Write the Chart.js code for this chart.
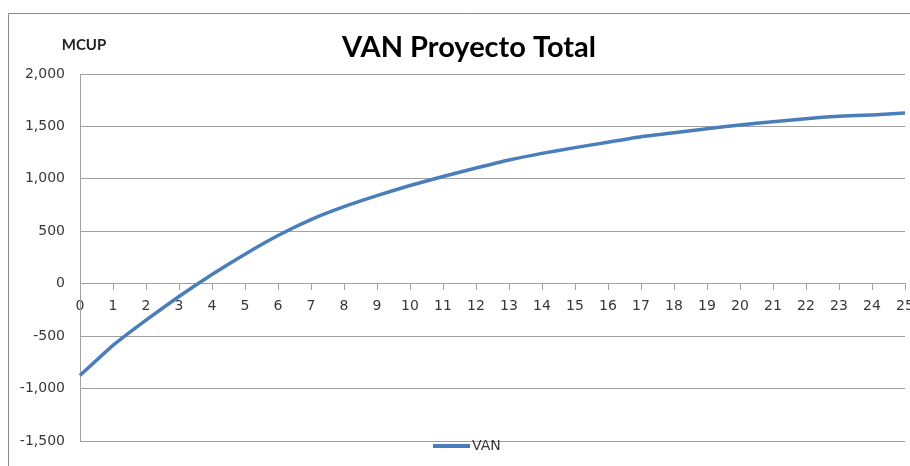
<!DOCTYPE html>
<html>
<head>
<meta charset="utf-8">
<script src="https://cdn.jsdelivr.net/npm/chart.js@4/dist/chart.umd.min.js"></script>
<style>
  html, body { margin: 0; padding: 0; background: #fff; overflow: hidden; }
  #wrap { position: relative; width: 910px; height: 466px; overflow: hidden; }
</style>
</head>
<body>
<div id="wrap"><canvas id="c" width="925" height="466"></canvas></div>
<script>
const years = ['0','1','2','3','4','5','6','7','8','9','10','11','12','13','14','15','16','17','18','19','20','21','22','23','24','25'];
const vanValues = [-875, -588, -347, -122, 88, 282, 460, 612, 735, 840, 937, 1022, 1103, 1180, 1243, 1298, 1350, 1402, 1440, 1478, 1514, 1545, 1574, 1598, 1610, 1628];
const yTicks = [-1500, -1000, -500, 0, 500, 1000, 1500, 2000];
const titleText = 'VAN Proyecto Total';
const unitText = 'MCUP';
const seriesName = 'VAN';

const lineColor = '#4a7ebb';
const gridColor = '#a0a0a0';
const textColor = '#383838';

const decorPlugin = {
  id: 'decor',
  beforeDraw(chart) {
    const ctx = chart.ctx;
    ctx.save();
    ctx.fillStyle = '#fff';
    ctx.fillRect(0, 0, chart.width, chart.height);
    ctx.strokeStyle = '#8a8a8a';
    ctx.lineWidth = 1;
    ctx.beginPath();
    ctx.moveTo(8.5, chart.height + 5);
    ctx.lineTo(8.5, 13.5);
    ctx.lineTo(chart.width + 5, 13.5);
    ctx.stroke();
    ctx.restore();
  },
  afterDraw(chart) {
    const ctx = chart.ctx;
    ctx.save();
    // title
    ctx.fillStyle = '#000';
    ctx.font = 'bold 29px Lato';
    ctx.textAlign = 'center';
    ctx.textBaseline = 'alphabetic';
    ctx.fillText(titleText, 469, 57);
    // unit label
    ctx.font = 'bold 15px Lato';
    ctx.fillStyle = '#222';
    ctx.fillText(unitText, 84, 50);
    // legend
    const ds = chart.data.datasets[0];
    ctx.strokeStyle = ds.borderColor;
    ctx.lineWidth = 4;
    ctx.beginPath();
    ctx.moveTo(433, 446);
    ctx.lineTo(470, 446);
    ctx.stroke();
    ctx.fillStyle = textColor;
    ctx.font = '14px "DejaVu Sans"';
    ctx.textAlign = 'left';
    ctx.textBaseline = 'middle';
    ctx.fillText(ds.label, 472, 446);
    ctx.restore();
  }
};

new Chart(document.getElementById('c'), {
  type: 'line',
  data: {
    labels: years,
    datasets: [{
      label: seriesName,
      data: vanValues,
      borderColor: lineColor,
      backgroundColor: lineColor,
      borderWidth: 3.5,
      pointRadius: 0,
      tension: 0.15,
      fill: false
    }]
  },
  options: {
    responsive: false,
    animation: false,
    devicePixelRatio: 1,
    layout: { padding: { left: 0, top: 74, right: 20, bottom: 25 } },
    plugins: {
      legend: { display: false },
      title: { display: false },
      tooltip: { enabled: false }
    },
    scales: {
      x: {
        type: 'category',
        position: { y: 0 },
        offset: false,
        grid: { display: true, drawOnChartArea: false, drawTicks: true, tickLength: 6, color: gridColor },
        border: { display: true, color: gridColor },
        ticks: {
          color: textColor,
          font: { family: 'DejaVu Sans', size: 14 },
          padding: 8,
          maxRotation: 0,
          autoSkip: false
        }
      },
      y: {
        min: -1500,
        max: 2000,
        afterBuildTicks(scale) { scale.ticks = yTicks.map(v => ({ value: v })); },
        afterFit(scale) { scale.width = 80; },
        grid: { color: gridColor, drawTicks: false },
        border: { display: true, color: gridColor },
        ticks: {
          color: textColor,
          font: { family: 'DejaVu Sans', size: 14 },
          padding: 15,
          callback: v => v.toLocaleString('en-US')
        }
      }
    }
  },
  plugins: [decorPlugin]
});
</script>
</body>
</html>
